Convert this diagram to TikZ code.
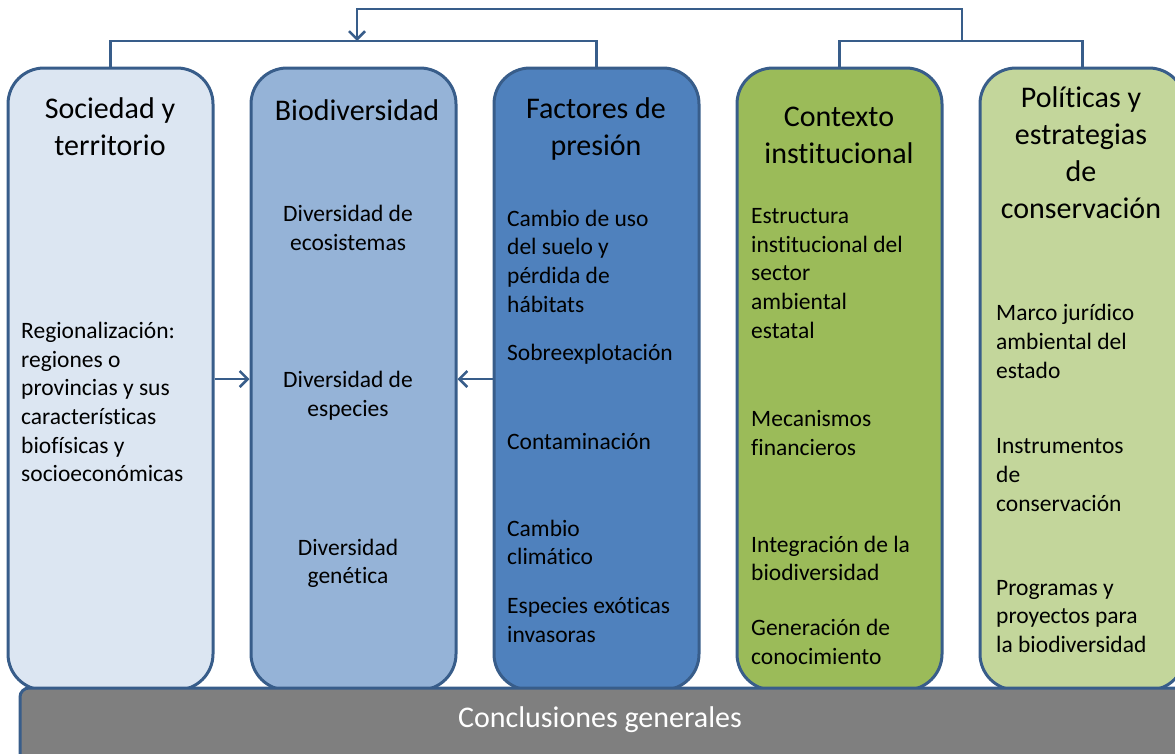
\documentclass[tikz,border=0pt]{standalone}
\usepackage{fontspec}
\setmainfont{Carlito}[Ligatures={NoCommon}]
\usetikzlibrary{arrows.meta}

\definecolor{edgeblue}{HTML}{385D8A}
\definecolor{socfill}{HTML}{DCE6F2}
\definecolor{biofill}{HTML}{95B3D7}
\definecolor{presfill}{HTML}{4F81BD}
\definecolor{ctxfill}{HTML}{9BBB59}
\definecolor{polfill}{HTML}{C3D69B}
\definecolor{barfill}{HTML}{7F7F7F}

\newcommand{\hdsize}{\fontsize{30}{37}\selectfont}
\newcommand{\txtsize}{\fontsize{23.5}{28.7}\selectfont}

\tikzstyle{panel}=[draw=edgeblue, line width=3pt, rounded corners=36pt, minimum width=205pt, minimum height=622pt, inner sep=0pt]
\tikzstyle{concbar}=[draw=edgeblue, line width=3pt, rounded corners=9pt, fill=barfill]
\tikzstyle{hd}=[font=\hdsize, align=center, inner sep=0pt]
\tikzstyle{txt}=[font=\txtsize, align=left, anchor=west, inner sep=0pt]
\tikzstyle{ctxt}=[font=\txtsize, align=center, inner sep=0pt]
\tikzstyle{link}=[draw=edgeblue, line width=2.5pt]
\tikzstyle{flow}=[link, -{Straight Barb[length=8pt, width=16pt, line width=2.5pt]}]

\begin{document}
\begin{tikzpicture}[x=1pt, y=-1pt]
      \clip (0, 0) rectangle (1175, 753);

      \node[panel, fill=socfill] (soc) at (110.5, 379) {};
      \node[panel, fill=biofill] (bio) at (353.5, 379) {};
      \node[panel, fill=presfill] (pres) at (596.5, 379) {};
      \node[panel, fill=ctxfill] (ctx) at (839.5, 379) {};
      \node[panel, fill=polfill] (pol) at (1082.5, 379) {};

      \draw[concbar] (20, 688) rectangle (1190, 770);
      \node[hd, text=white] (concl) at (600, 720) {Conclusiones generales};

      % titles
      \node[hd] (socT) at (110, 126.5) {Sociedad y\\territorio};
      \node[hd] (bioT) at (357, 110) {Biodiversidad};
      \node[hd] (presT) at (596, 128.5) {Factores de\\presión};
      \node[hd] (ctxT) at (839, 135.5) {Contexto\\institucional};
      \node[hd] (polT) at (1081, 152.5) {Políticas y\\estrategias\\de\\conservación};

      % sociedad y territorio
      \node[txt] (soc1) at (21, 402) {Regionalización:\\regiones o\\provincias y sus\\características\\biofísicas y\\socioeconómicas};

      % biodiversidad
      \node[ctxt] (bio1) at (348, 228) {Diversidad de\\ecosistemas};
      \node[ctxt] (bio2) at (348, 396) {Diversidad de\\especies};
      \node[ctxt] (bio3) at (348, 563.5) {Diversidad\\genética};

      % factores de presion
      \node[txt] (pres1) at (507, 261) {Cambio de uso\\del suelo y\\pérdida de\\hábitats};
      \node[txt] (pres2) at (507, 354) {Sobreexplotación};
      \node[txt] (pres3) at (507, 441) {Contaminación};
      \node[txt] (pres4) at (507, 542.5) {Cambio\\climático};
      \node[txt] (pres5) at (507, 620) {Especies exóticas\\invasoras};

      % contexto institucional
      \node[txt] (ctx1) at (751, 273.5) {Estructura\\institucional del\\sector\\ambiental\\estatal};
      \node[txt] (ctx2) at (751, 433) {Mecanismos\\financieros};
      \node[txt] (ctx3) at (751, 558.5) {Integración de la\\biodiversidad};
      \node[txt] (ctx4) at (751, 642) {Generación de\\conocimiento};

      % politicas
      \node[txt] (pol1) at (996, 341.5) {Marco jurídico\\ambiental del\\estado};
      \node[txt] (pol2) at (996, 475) {Instrumentos\\de\\conservación};
      \node[txt] (pol3) at (996, 616.5) {Programas y\\proyectos para\\la biodiversidad};

      % connectors
      \coordinate (jl) at (357, 41);
      \coordinate (jr) at (962, 41);
      \coordinate (top) at (357, 9);
      \draw[link] (soc.north) |- (jl) -| (pres.north);
      \draw[link] (ctx.north) |- (jr) -| (pol.north);
      \draw[flow] (jr) |- (top) -- (jl);
      \draw[flow] (soc.east) -- (bio.west);
      \draw[flow] (pres.west) -- (bio.east);
    \end{tikzpicture}
\end{document}
